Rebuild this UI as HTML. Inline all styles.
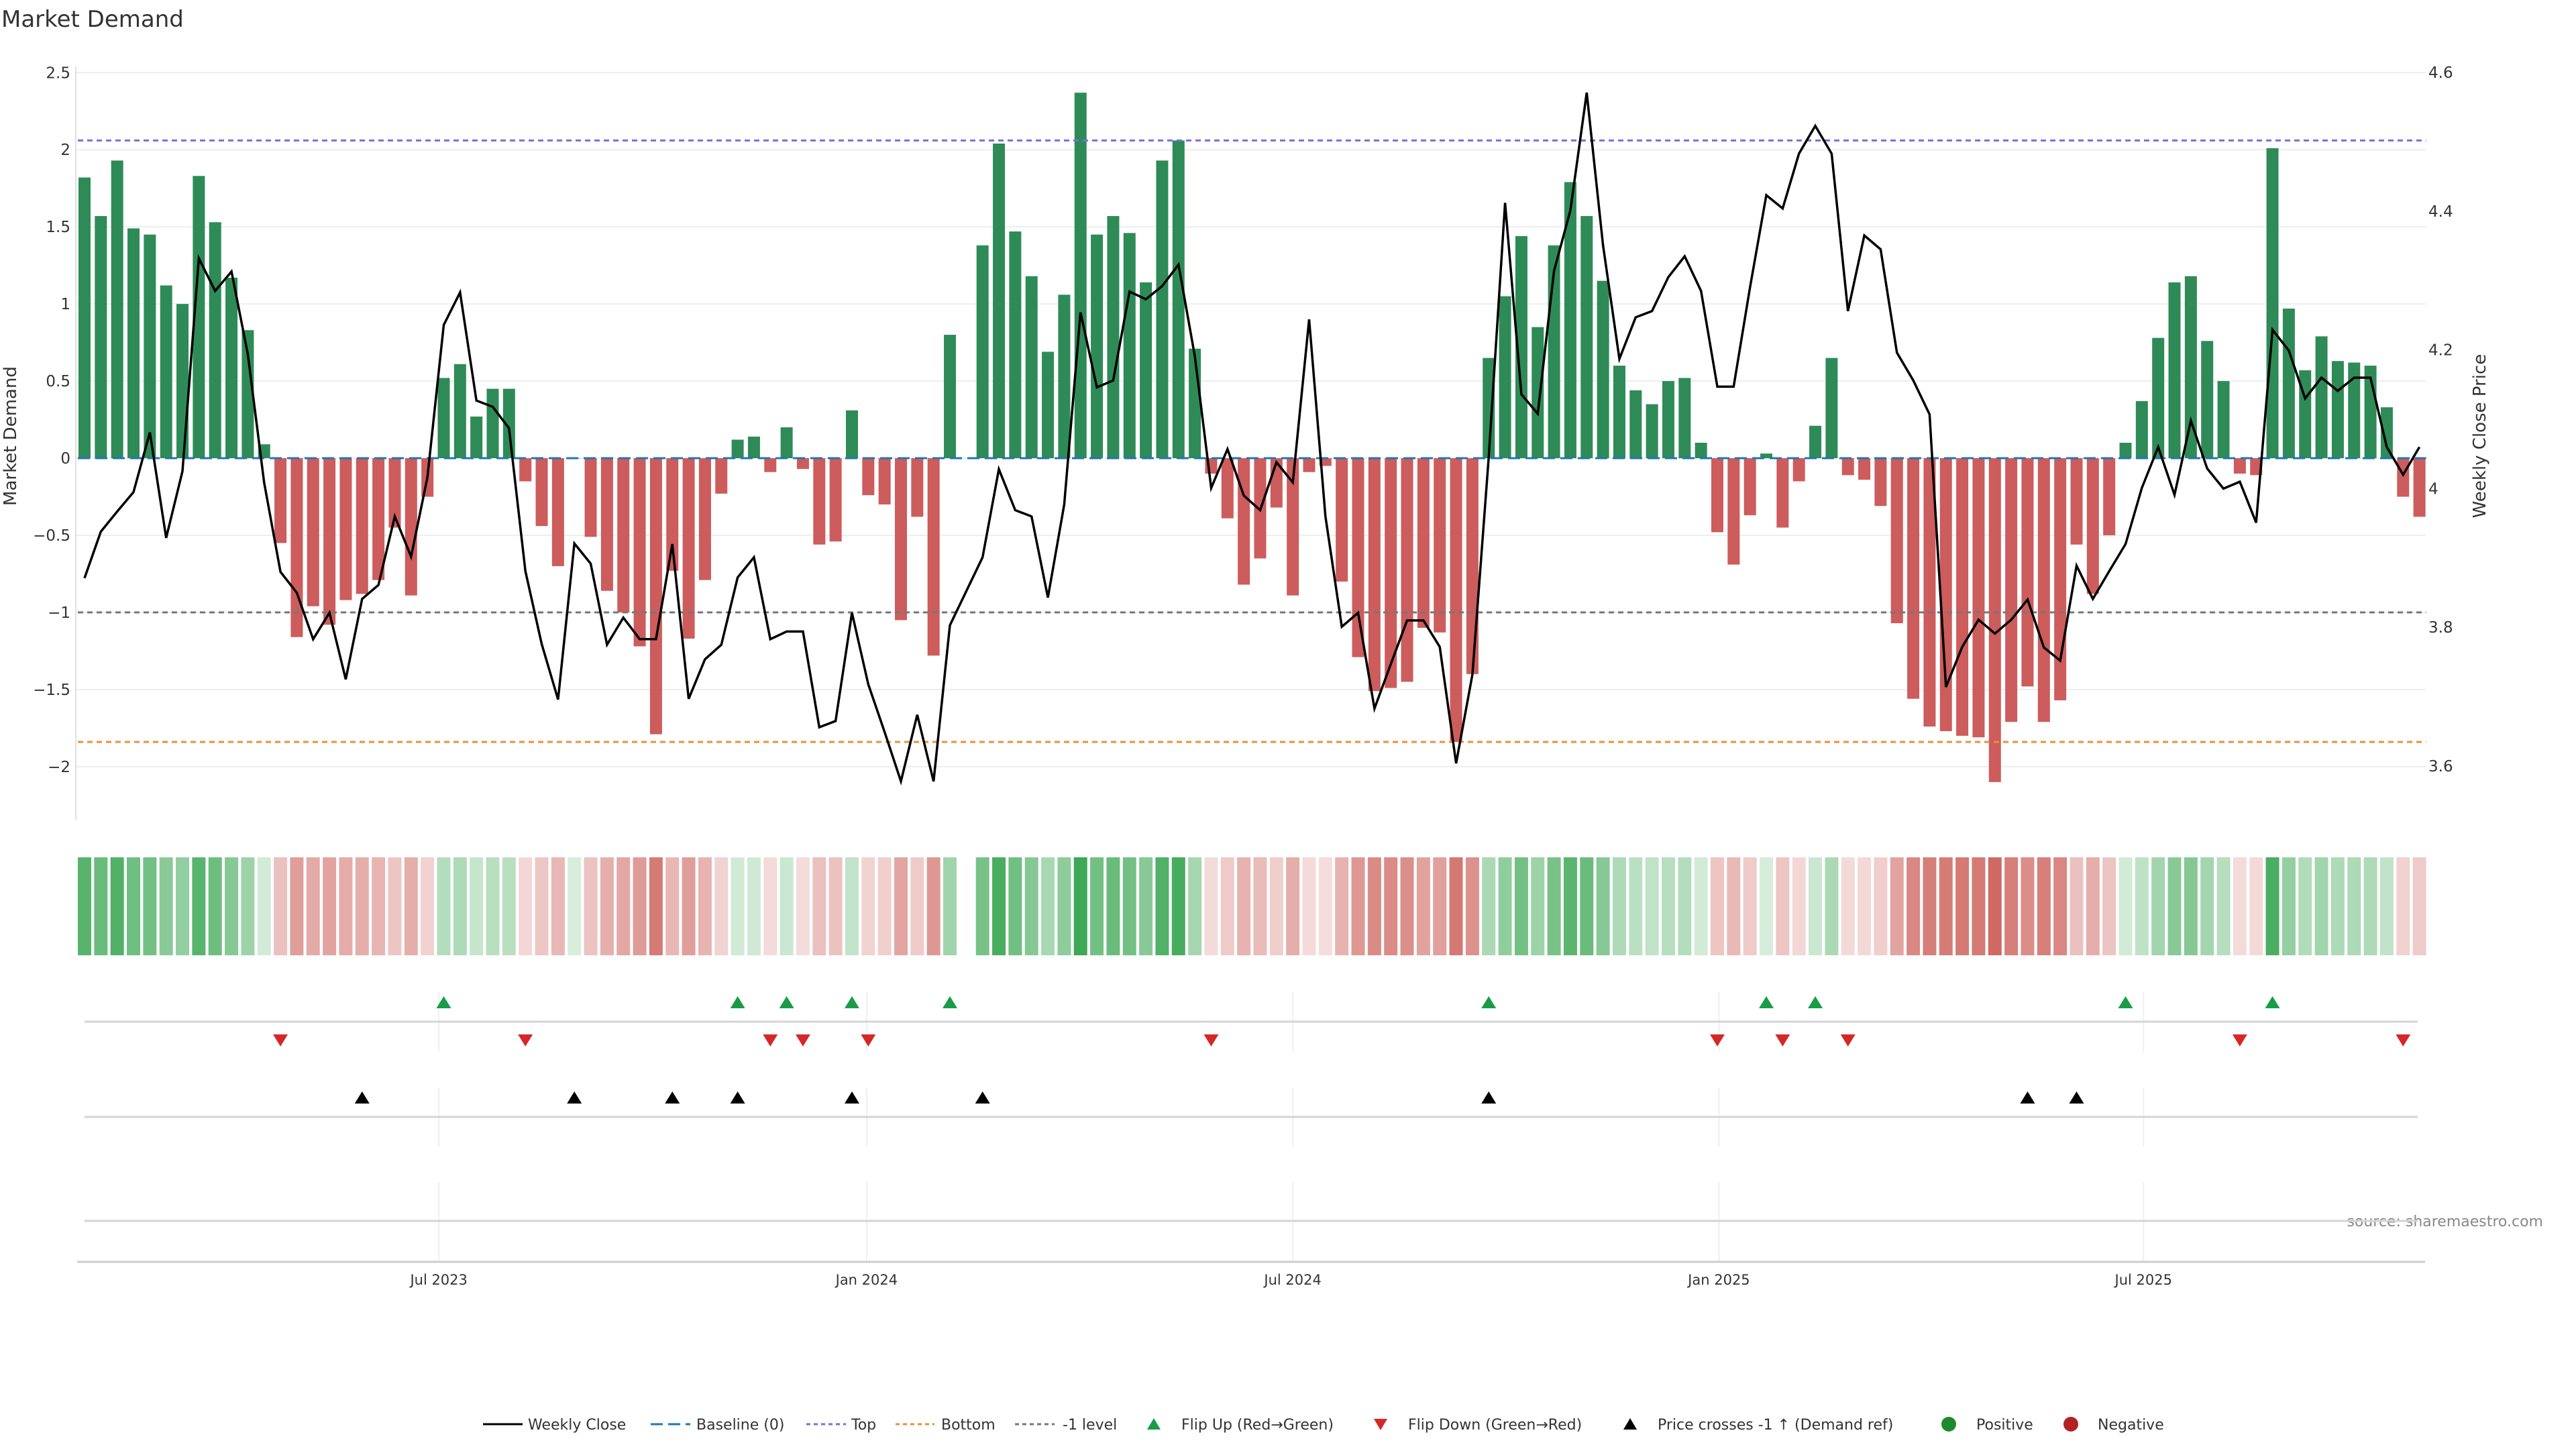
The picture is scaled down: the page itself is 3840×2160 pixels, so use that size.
<!DOCTYPE html>
<html><head><meta charset="utf-8"><title>Market Demand</title>
<style>
html,body{margin:0;padding:0;background:#fff;}
svg{display:block;font-family:"DejaVu Sans","Liberation Sans",sans-serif;}
</style></head>
<body>
<svg id="chart" width="3840" height="2160" viewBox="0 0 3840 2160" xmlns="http://www.w3.org/2000/svg">
<rect x="0" y="0" width="3840" height="2160" fill="#fff"/>
<text x="2" y="40" font-size="34" fill="#333">Market Demand</text>
<text transform="translate(24,650) rotate(-90)" text-anchor="middle" font-size="26" fill="#333">Market Demand</text>
<text transform="translate(3705,650) rotate(-90)" text-anchor="middle" font-size="26" fill="#333">Weekly Close Price</text>
<text x="3791" y="1828" text-anchor="end" font-size="22" fill="#888">source: sharemaestro.com</text>
<g id="grid"></g>
<g id="bars"></g>
<g id="refs"></g>
<g id="price"></g>
<g id="heat"></g>
<g id="marks"></g>
<g id="xaxis"></g>
<g id="legend"></g>
</svg>
<script>
const demand = [1.82,1.57,1.93,1.49,1.45,1.12,1.00,1.83,1.53,1.17,0.83,0.09,-0.55,-1.16,-0.96,-1.08,-0.92,-0.88,-0.79,-0.45,-0.89,-0.25,0.52,0.61,0.27,0.45,0.45,-0.15,-0.44,-0.70,0,-0.51,-0.86,-1.00,-1.22,-1.79,
-0.73,-1.17,-0.79,-0.23,0.12,0.14,-0.09,0.20,-0.07,-0.56,-0.54,0.31,-0.24,-0.30,-1.05,-0.38,-1.28,0.80,null,1.38,2.04,1.47,1.18,0.69,1.06,2.37,1.45,1.57,1.46,1.14,1.93,2.06,0.71,-0.10,-0.39,-0.82,-0.65,
-0.32,-0.89,-0.09,-0.05,-0.80,-1.29,-1.51,-1.49,-1.45,-1.10,-1.13,-1.84,-1.40,0.65,1.05,1.44,0.85,1.38,1.79,1.57,1.15,0.60,0.44,0.35,0.50,0.52,0.10,-0.48,-0.69,-0.37,0.03,-0.45,-0.15,0.21,0.65,-0.11,
-0.14,-0.31,-1.07,-1.56,-1.74,-1.77,-1.80,-1.81,-2.10,-1.71,-1.48,-1.71,-1.57,-0.56,-0.88,-0.50,0.10,0.37,0.78,1.14,1.18,0.76,0.50,-0.10,-0.11,2.01,0.97,0.57,0.79,0.63,0.62,0.60,0.33,-0.25,-0.38];
const closePrice = [3.871,3.938,3.967,3.995,4.081,3.929,4.025,4.332,4.285,4.313,4.194,4.009,3.880,3.850,3.783,3.821,3.725,3.841,3.861,3.960,3.902,4.016,4.236,4.283,4.127,4.118,4.087,3.881,3.776,3.696,3.921,3.892,3.775,3.814,3.783,3.783,
3.920,3.697,3.754,3.775,3.872,3.901,3.783,3.794,3.794,3.656,3.665,3.821,3.718,3.649,3.578,3.674,3.578,3.803,null,3.901,4.028,3.969,3.960,3.843,3.977,4.254,4.146,4.156,4.284,4.273,4.292,4.323,4.191,4.001,4.057,3.990,3.969,
4.038,4.009,4.244,3.960,3.801,3.821,3.683,3.747,3.810,3.810,3.772,3.604,3.732,4.045,4.412,4.136,4.108,4.314,4.401,4.571,4.351,4.187,4.247,4.256,4.305,4.335,4.285,4.147,4.147,4.290,4.423,4.404,4.483,4.523,4.483,4.256,
4.365,4.345,4.196,4.156,4.107,3.714,3.772,3.811,3.791,3.811,3.840,3.771,3.752,3.889,3.841,3.881,3.920,4.001,4.060,3.991,4.098,4.029,4.000,4.010,3.951,4.229,4.199,4.130,4.160,4.141,4.160,4.160,4.060,4.020,4.060];
const flipUp = [22,40,43,47,53,86,103,106,125,134];
const flipDown = [12,27,42,44,48,69,100,104,108,132,142];
const crossUp = [17,30,36,40,47,55,86,119,122];
const leftTicks = [2.5,2,1.5,1,0.5,0,-0.5,-1,-1.5,-2];
const leftTickLabels = ["2.5","2","1.5","1","0.5","0","−0.5","−1","−1.5","−2"];
const rightTicks = [4.6,4.4,4.2,4.0,3.8,3.6];
const rightTickLabels = ["4.6","4.4","4.2","4","3.8","3.6"];
const dateTickPos = [21.7,47.9,74.0,100.1,126.1];
const dateTickLabels = ["Jul 2023","Jan 2024","Jul 2024","Jan 2025","Jul 2025"];
const refLevels = [2.06,-1.84,-1];

const NS="http://www.w3.org/2000/svg";
function mk(tag,attrs,parent){const e=document.createElementNS(NS,tag);for(const k in attrs)e.setAttribute(k,attrs[k]);parent.appendChild(e);return e;}
const X0=126, STEP=24.34, L=113, R=3616;
const xs=i=>X0+i*STEP;
const yv=v=>683-v*229.9;
const yp=p=>108+(4.6-p)*1034;

const grid=document.getElementById('grid');
leftTicks.forEach((t,k)=>{
  const g=mk('line',{x1:L,x2:R,y1:yv(t),y2:yv(t),stroke:'#eceef0','stroke-width':2},grid);
  
  
  const tx=mk('text',{x:105,y:yv(t)+8,'text-anchor':'end','font-size':23,fill:'#333'},grid);
  tx.textContent=leftTickLabels[k];
  
  
});
rightTicks.forEach((t,k)=>{
  const tx=mk('text',{x:3620,y:yp(t)+8,'font-size':23,fill:'#333'},grid);
  tx.textContent=rightTickLabels[k];
  
  
});
const sp=mk('line',{x1:L,x2:L,y1:99,y2:1222,stroke:'#e0e0e0','stroke-width':2},grid);



const bars=document.getElementById('bars');
demand.forEach((v,i)=>{
  if(v===null)return;
  const y0=yv(0),y1=yv(v);
  const b=mk('rect',{x:xs(i)-9,width:18,y:Math.min(y0,y1),height:Math.max(Math.abs(y1-y0),0.5),fill:v>=0?'#2e8b57':'#cd5c5c'},bars);
  
  
});

const refs=document.getElementById('refs');
const base=mk('line',{x1:X0-10,x2:xs(143)+10,y1:yv(0),y2:yv(0),stroke:'#1f77b4','stroke-width':3,'stroke-dasharray':'18 8'},refs);


const refCols=['#7b6fd6','#e8913a','#777'];
const refNames=['top-line','bottom-line','minus-one-line'];
refLevels.forEach((lv,k)=>{
  const r=mk('line',{x1:X0-10,x2:xs(143)+10,y1:yv(lv),y2:yv(lv),stroke:refCols[k],'stroke-width':3,'stroke-dasharray':'8 6'},refs);
  
  
});

const pr=document.getElementById('price');
let d='';let first=true;
closePrice.forEach((p,i)=>{if(p===null)return;d+=(first?'M':'L')+xs(i).toFixed(1)+','+yp(p).toFixed(1)+' ';first=false;});
const pl=mk('path',{d:d,fill:'none',stroke:'#000','stroke-width':3.5,'stroke-linejoin':'miter'},pr);



const heat=document.getElementById('heat');
demand.forEach((v,i)=>{
  if(v===null)return;
  const a=Math.min(1,0.2+0.8*Math.abs(v)/2.2);
  const c=v>=0?`rgba(62,168,86,${a})`:`rgba(206,100,94,${a})`;
  const h=mk('rect',{x:xs(i)-10,width:20,y:1278,height:146,fill:c},heat);
  
  
});

const marks=document.getElementById('marks');
dateTickPos.forEach(t=>{
  [[1478,1568],[1622,1710],[1762,1880]].forEach(r=>{
    const g=mk('line',{x1:xs(t),x2:xs(t),y1:r[0],y2:r[1],stroke:'#eef0f2','stroke-width':2},marks);
    
    
  });
});
[1523,1665,1820].forEach(y=>{
  const s=mk('line',{x1:126,x2:3604,y1:y,y2:y,stroke:'#d4d4d4','stroke-width':3},marks);
  
  
});
function tri(x,y,up,col,name){
  const pts=up?`${x-11},${y+9} ${x+11},${y+9} ${x},${y-9}`:`${x-11},${y-9} ${x+11},${y-9} ${x},${y+9}`;
  const t=mk('polygon',{points:pts,fill:col},marks);
  
  
}
flipUp.forEach(i=>tri(xs(i),1494,true,'#1a9c47','flip-up-marker'));
flipDown.forEach(i=>tri(xs(i),1551,false,'#d62728','flip-down-marker'));
crossUp.forEach(i=>tri(xs(i),1636,true,'#000','price-cross-marker'));

const xa=document.getElementById('xaxis');
const axl=mk('line',{x1:115,x2:3615,y1:1881,y2:1881,stroke:'#ccc','stroke-width':3},xa);


dateTickPos.forEach((t,k)=>{
  const tx=mk('text',{x:xs(t),y:1915,'text-anchor':'middle','font-size':21,fill:'#333'},xa);
  tx.textContent=dateTickLabels[k];
  
  
});

const lg=document.getElementById('legend');
const LY=2123;
function ltext(x,s){const t=mk('text',{x:x,y:LY+8,'font-size':22,fill:'#333'},lg);t.textContent=s;}
function lline(x1,x2,col,dash,name){const l=mk('line',{x1:x1,x2:x2,y1:LY,y2:LY,stroke:col,'stroke-width':3,'stroke-dasharray':dash},lg);}
lline(720,779,'#000','none','legend-weekly-close');ltext(787,'Weekly Close');
lline(970,1029,'#1f77b4','18 8','legend-baseline');ltext(1038,'Baseline (0)');
lline(1202,1261,'#7b6fd6','6 5','legend-top');ltext(1269,'Top');
lline(1335,1393,'#e8913a','6 5','legend-bottom');ltext(1403,'Bottom');
lline(1513,1572,'#777','6 5','legend-minus-one');ltext(1584,'-1 level');
function ltri(x,up,col,name){const y=LY;const pts=up?`${x-10},${y+8} ${x+10},${y+8} ${x},${y-9}`:`${x-10},${y-8} ${x+10},${y-8} ${x},${y+9}`;const t=mk('polygon',{points:pts,fill:col},lg);}
ltri(1720,true,'#1a9c47','legend-flip-up');ltext(1761,'Flip Up (Red→Green)');
ltri(2058,false,'#d62728','legend-flip-down');ltext(2099,'Flip Down (Green→Red)');
ltri(2430,true,'#000','legend-price-cross');ltext(2471,'Price crosses -1 ↑ (Demand ref)');
const c1=mk('circle',{cx:2905,cy:LY,r:11,fill:'#1e8a2e'},lg);


ltext(2946,'Positive');
const c2=mk('circle',{cx:3087,cy:LY,r:11,fill:'#b22222'},lg);


ltext(3127,'Negative');
</script>
</body></html>
